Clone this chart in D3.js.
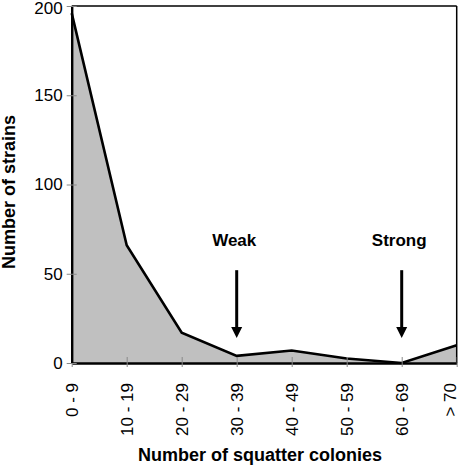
<!DOCTYPE html>
<html><head><meta charset="utf-8">
<script src="https://cdn.jsdelivr.net/npm/d3@7"></script>
<style>body{margin:0;background:#fff;} svg{display:block;}</style>
</head><body>
<svg id="c" width="459" height="468"></svg>
<script>
const categories = ["0 - 9","10 - 19","20 - 29","30 - 39","40 - 49","50 - 59","60 - 69","> 70"];
const strains = [196, 66, 17, 4, 7, 2.5, 0, 10];
const yTicks = [0, 50, 100, 150, 200];
const annotations = ["Weak", "Strong"];
const annotationCats = ["30 - 39", "60 - 69"];
const arrowFrom = 52, arrowTo = 14, labelAt = 65.5;

const svg = d3.select("#c");
const m = {left: 71.7, right: 2.3, top: 6, bottom: 105};
const W = 459, H = 468;
const x = d3.scalePoint().domain(categories).range([m.left, W - m.right]);
const y = d3.scaleLinear().domain([0, 200]).range([H - m.bottom, m.top]);
const font = "'Liberation Sans', Arial, sans-serif";

// area
const area = d3.area().x((d,i)=>x(categories[i])).y0(y(0)).y1(d=>y(d));
svg.append("path").datum(strains).attr("d", area).attr("fill", "#c0c0c0");
const line = d3.line().x((d,i)=>x(categories[i])).y(d=>y(d));
svg.append("path").datum(strains).attr("d", line).attr("fill","none")
  .attr("stroke","#000").attr("stroke-width",2.6).attr("stroke-linejoin","miter");

// frame
svg.append("line").attr("x1", x.range()[0]).attr("x2", x.range()[1]).attr("y1", y(200)).attr("y2", y(200)).attr("stroke","#000").attr("stroke-width",1.5);
svg.append("line").attr("x1", x.range()[1]).attr("x2", x.range()[1]).attr("y1", y(200)).attr("y2", y(0)).attr("stroke","#000").attr("stroke-width",1.5);

// axes
const xa = svg.append("g").attr("transform", `translate(0,${y(0)})`)
  .call(d3.axisBottom(x).tickSizeInner(4).tickSizeOuter(0).tickPadding(0));
xa.select(".domain").attr("stroke","#000").attr("stroke-width",2.4);
xa.selectAll(".tick line").attr("y1",-6).attr("stroke","#888");
xa.selectAll(".tick text").attr("transform","rotate(-90)").attr("text-anchor","end")
  .attr("x",-20).attr("y",(d,i)=> i === categories.length-1 ? -7 : 0).attr("dy","0.35em")
  .style("font-family",font).style("font-size","17px").attr("fill","#000");

const ya = svg.append("g").attr("transform", `translate(${x.range()[0]},0)`)
  .call(d3.axisLeft(y).tickValues(yTicks).tickSizeInner(5).tickSizeOuter(0).tickPadding(4));
ya.select(".domain").attr("stroke","#000").attr("stroke-width",2.4);
ya.selectAll(".tick line").attr("x1",5).attr("stroke","#888");
ya.selectAll(".tick text").style("font-family",font).style("font-size","17px").attr("fill","#000")
  .attr("dy", d => d === 200 ? "0.45em" : "0.32em");

// annotations
annotations.forEach((t,i)=>{
  const cx = x(annotationCats[i]);
  svg.append("text").attr("x", cx - 2.5).attr("y", y(labelAt)).attr("text-anchor","middle")
    .style("font-family",font).style("font-size","17px").style("font-weight","bold").text(t);
  svg.append("line").attr("x1",cx).attr("x2",cx).attr("y1",y(arrowFrom)).attr("y2",y(arrowTo)-9)
    .attr("stroke","#000").attr("stroke-width",3);
  const tip = y(arrowTo);
  svg.append("path").attr("d",`M${cx-5.5},${tip-11}L${cx+5.5},${tip-11}L${cx},${tip}Z`).attr("fill","#000");
});

// titles
svg.append("text").attr("x", 260).attr("y", 461).attr("text-anchor","middle")
  .style("font-family",font).style("font-size","18px").style("font-weight","bold")
  .text("Number of squatter colonies");
svg.append("text").attr("transform","translate(15,192) rotate(-90)").attr("text-anchor","middle")
  .style("font-family",font).style("font-size","18px").style("font-weight","bold")
  .text("Number of strains");
</script>
</body></html>
